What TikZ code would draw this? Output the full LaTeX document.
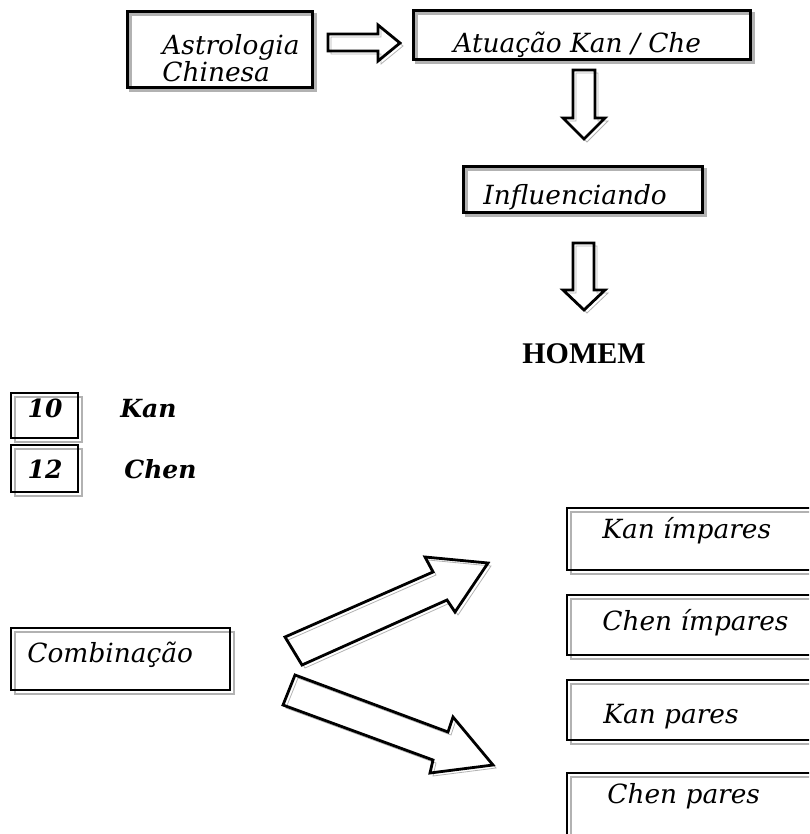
\documentclass[tikz,border=0pt]{standalone}
\usepackage{fontspec}
\setmainfont{DejaVu Serif}
\newfontfamily\timesfont{Liberation Serif}
\usetikzlibrary{shadows,fit}

\tikzset{
  thickbox/.style={draw=black, line width=1.5pt, inner sep=0pt,
    copy shadow={shadow xshift=1.5pt, shadow yshift=-1.5pt, draw=gray!60, fill=none}},
  thinbox/.style={draw=black, line width=0.8pt, inner sep=0pt,
    copy shadow={shadow xshift=2pt, shadow yshift=-2pt, draw=gray!60, fill=none}},
  blockarrow/.style={draw=black, line width=1.4pt, line join=miter,
    copy shadow={shadow xshift=1.5pt, shadow yshift=-1.5pt, draw=gray!60, fill=none}},
  lbl/.style={anchor=base west, inner sep=0pt, font=\fontsize{13.2}{16}\selectfont\itshape},
  bold lbl/.style={lbl, font=\fontsize{12.5}{15}\selectfont\bfseries\itshape}
}

\begin{document}
\begin{tikzpicture}[x=0.5pt, y=-0.5pt]

\useasboundingbox (0,0) rectangle (809,834);
\clip (0,0) rectangle (809,834);

%boxes
\node[thickbox, fit={(127,12) (312,88)}]  (astro)  {};
\node[thickbox, fit={(413,11) (750,60)}]  (atua)   {};
\node[thickbox, fit={(463,167) (702,213)}] (influ) {};
%
\node[thinbox, fit={(11,393) (78,438)}]   (dez)    {};
\node[thinbox, fit={(11,445) (78,492)}]   (doze)   {};
\node[thinbox, fit={(11,628) (230,690)}]  (comb)   {};
%
\node[thinbox, fit={(567,508) (830,570)}] (kanimp) {};
\node[thinbox, fit={(567,595) (830,655)}] (chenimp){};
\node[thinbox, fit={(567,680) (830,740)}] (kanpar) {};
\node[thinbox, fit={(567,773) (830,860)}] (chenpar){};

%arrows
\draw[blockarrow] (328,34)--(378,34)--(378,25)--(400,43)--(378,61)--(378,51)--(328,51)--cycle;   %astro--atua
\draw[blockarrow] (573,70)--(595,70)--(595,118)--(605,118)--(584,139)--(563,118)--(573,118)--cycle; %atua--influ
\draw[blockarrow] (573,243)--(594,243)--(594,290)--(605,290)--(584,310)--(563,290)--(573,290)--cycle; %influ--homem
%
\draw[blockarrow] (285,637)--(433,572)--(425,557)--(488,563)--(455,612)--(447,600)--(302,665)--cycle; %comb--up
\draw[blockarrow] (295,675)--(448,732)--(453,717)--(493,765)--(430,773)--(433,760)--(283,705)--cycle; %comb--down

%labels
\node[lbl] (astroA) at (162,55) {Astrologia};
\node[lbl] (astroB) at (162,82) {Chinesa};
\node[lbl] (atuaT)  at (453,53) {\underline{Atuação Kan / Che}};
\node[lbl] (influT) at (483,205) {Influenciando};
\node[anchor=base, inner sep=0pt, font=\timesfont\bfseries\fontsize{15}{18}\selectfont] (homem) at (584,363) {HOMEM};
%
\node[bold lbl, anchor=base] (dezT)  at (45,417) {10};
\node[bold lbl] (kanT)  at (120,417) {Kan};
\node[bold lbl, anchor=base] (dozeT) at (45,478) {12};
\node[bold lbl] (chenT) at (124,478) {Chen};
%
\node[lbl] (combT) at (27,662) {Combinação};
%
\node[lbl] (kanimpT)  at (602,538) {Kan ímpares};
\node[lbl] (chenimpT) at (602,630) {Chen ímpares};
\node[lbl] (kanparT)  at (603,723) {Kan pares};
\node[lbl] (chenparT) at (607,803) {Chen pares};

\end{tikzpicture}
\end{document}
